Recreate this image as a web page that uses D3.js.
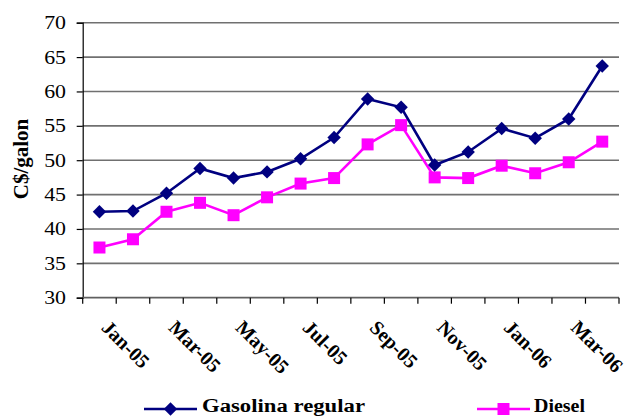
<!DOCTYPE html>
<html>
<head>
<meta charset="utf-8">
<script src="https://cdn.jsdelivr.net/npm/d3@7"></script>
<style>
  html, body { margin: 0; padding: 0; background: #fff; }
  svg { display: block; }
  text { font-family: "Liberation Serif", "Times New Roman", serif; fill: #000; }
</style>
</head>
<body>
<svg id="chart" width="628" height="417"></svg>
<script>
// Monthly prices, C$ per gallon
const months = ["Jan-05","Feb-05","Mar-05","Apr-05","May-05","Jun-05","Jul-05","Aug-05",
                "Sep-05","Oct-05","Nov-05","Dec-05","Jan-06","Feb-06","Mar-06","Apr-06"];
const gasolina = [42.5, 42.6, 45.2, 48.8, 47.4, 48.3, 50.2, 53.3, 58.9, 57.7, 49.3, 51.2, 54.6, 53.2, 56.0, 63.7];
const diesel   = [37.3, 38.5, 42.5, 43.8, 42.0, 44.6, 46.6, 47.4, 52.3, 55.1, 47.5, 47.4, 49.2, 48.1, 49.7, 52.7];
const yTicks = [30, 35, 40, 45, 50, 55, 60, 65, 70];
const labelMonths = ["Jan-05","Mar-05","May-05","Jul-05","Sep-05","Nov-05","Jan-06","Mar-06"];
const seriesNames = ["Gasolina regular", "Diesel"];

const svg = d3.select("#chart");
const plot = { left: 82.7, right: 619, top: 22.7, bottom: 297.7 };

const x = d3.scaleBand().domain(months).range([plot.left, plot.right]).padding(0);
const y = d3.scaleLinear().domain([30, 70]).range([plot.bottom, plot.top]);
const cx = d => x(d) + x.bandwidth() / 2;

// horizontal gridlines
svg.append("g").selectAll("line")
  .data(yTicks.filter(t => t > 30))
  .join("line")
  .attr("x1", plot.left).attr("x2", plot.right)
  .attr("y1", d => y(d)).attr("y2", d => y(d))
  .attr("stroke", "#707070").attr("stroke-width", 1.6);

// y axis line and ticks
const yAxis = svg.append("g")
  .attr("transform", `translate(${plot.left},0)`)
  .call(d3.axisLeft(y).tickValues(yTicks).tickSize(6).tickFormat(""));
yAxis.select(".domain").attr("stroke", "#000").attr("stroke-width", 1.2);
yAxis.selectAll(".tick line").attr("stroke", "#000").attr("stroke-width", 1.2);

// y tick labels, set in a slightly wide serif face
svg.append("g").selectAll("text")
  .data(yTicks)
  .join("text")
  .attr("transform", d => `translate(66,${y(d)}) scale(1.15,1)`)
  .attr("dy", "0.34em")
  .attr("text-anchor", "end")
  .attr("font-size", 19)
  .text(d => d);

// x axis: band boundaries as ticks
svg.append("line")
  .attr("x1", plot.left).attr("x2", plot.right)
  .attr("y1", plot.bottom).attr("y2", plot.bottom)
  .attr("stroke", "#606060").attr("stroke-width", 1.8);
const edges = months.map(m => x(m)).concat([plot.right]);
svg.append("g").selectAll("line")
  .data(edges)
  .join("line")
  .attr("x1", d => d).attr("x2", d => d)
  .attr("y1", plot.bottom).attr("y2", plot.bottom + 6)
  .attr("stroke", "#000").attr("stroke-width", 1.2);

// rotated month labels
svg.append("g").selectAll("text")
  .data(labelMonths)
  .join("text")
  .attr("transform", d => `translate(${cx(d) + 1},${plot.bottom + 31}) rotate(45)`)
  .attr("text-anchor", "start")
  .attr("font-size", 20)
  .attr("font-weight", "bold")
  .text(d => d);

// y axis title
svg.append("text")
  .attr("transform", `translate(28,159) rotate(-90)`)
  .attr("text-anchor", "middle")
  .attr("font-size", 21)
  .attr("font-weight", "bold")
  .text("C$/galon");

const line = d3.line().x((d, i) => cx(months[i])).y(d => y(d));

// diesel series
svg.append("path").datum(diesel)
  .attr("d", line).attr("fill", "none")
  .attr("stroke", "#ff00ff").attr("stroke-width", 2.6);
svg.append("g").selectAll("rect")
  .data(diesel)
  .join("rect")
  .attr("x", (d, i) => cx(months[i]) - 6)
  .attr("y", d => y(d) - 6)
  .attr("width", 12).attr("height", 12)
  .attr("fill", "#ff00ff");

// gasoline series
svg.append("path").datum(gasolina)
  .attr("d", line).attr("fill", "none")
  .attr("stroke", "#000080").attr("stroke-width", 2.6);
const diamond = d3.symbol().type(d3.symbolSquare).size(90);
svg.append("g").selectAll("path")
  .data(gasolina)
  .join("path")
  .attr("d", diamond)
  .attr("transform", (d, i) => `translate(${cx(months[i])},${y(d)}) rotate(45)`)
  .attr("fill", "#000080");

// legend
const legend = svg.append("g");
const legendItems = [
  { name: seriesNames[0], color: "#000080", x0: 144, x1: 197, tx: 202, w: 163, marker: "diamond" },
  { name: seriesNames[1], color: "#ff00ff", x0: 477, x1: 530, tx: 534, w: 51, marker: "square" }
];
const ly = 409;
legendItems.forEach(it => {
  legend.append("line")
    .attr("x1", it.x0).attr("x2", it.x1).attr("y1", ly).attr("y2", ly)
    .attr("stroke", it.color).attr("stroke-width", 2.6);
  const mx = (it.x0 + it.x1) / 2;
  if (it.marker === "diamond") {
    legend.append("path").attr("d", diamond)
      .attr("transform", `translate(${mx},${ly}) rotate(45)`)
      .attr("fill", it.color);
  } else {
    legend.append("rect").attr("x", mx - 6).attr("y", ly - 6)
      .attr("width", 12).attr("height", 12).attr("fill", it.color);
  }
  legend.append("text")
    .attr("x", it.tx).attr("y", ly + 3)
    .attr("font-size", 18).attr("font-weight", "bold")
    .attr("textLength", it.w).attr("lengthAdjust", "spacingAndGlyphs")
    .text(it.name);
});
</script>
</body>
</html>
